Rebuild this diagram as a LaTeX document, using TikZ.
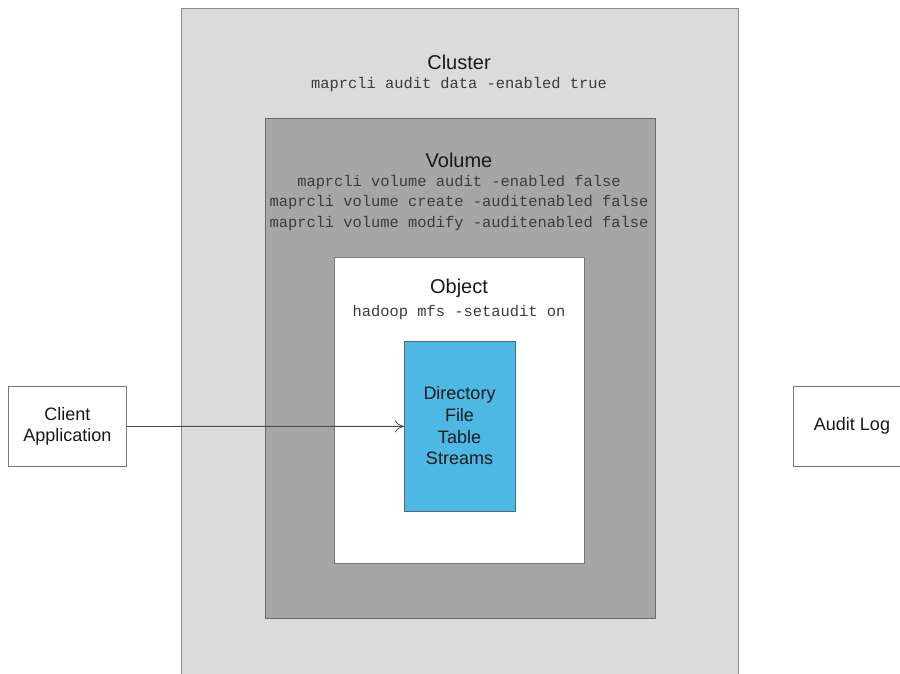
\documentclass[tikz,border=0pt]{standalone}
\usepackage{fontspec}
\setmainfont{Liberation Sans}
\newfontfamily\monofont{Liberation Mono}
\usetikzlibrary{arrows.meta}
\definecolor{clusterfill}{RGB}{219,219,219}
\definecolor{clusterline}{RGB}{140,140,140}
\definecolor{volfill}{RGB}{166,166,166}
\definecolor{volline}{RGB}{105,105,105}
\definecolor{objline}{RGB}{120,120,120}
\definecolor{bluefill}{RGB}{77,184,228}
\definecolor{blueline}{RGB}{70,110,140}
\definecolor{monotext}{RGB}{60,60,60}
\definecolor{txt}{RGB}{25,25,25}
\tikzset{
  area/.style={draw, line width=0.9pt, anchor=north west, inner sep=0pt, rectangle},
  title/.style={font=\fontsize{20}{24}\selectfont, text=txt, inner sep=0pt},
  cmd/.style={font=\monofont\fontsize{15.4}{20}\selectfont, text=monotext, inner sep=0pt, align=center},
  label/.style={font=\fontsize{18}{21.7}\selectfont, text=txt, align=center, inner sep=0pt},
  sidebox/.style={draw=objline, line width=0.8pt, fill=white, anchor=north west, inner sep=0pt, rectangle},
  conn/.style={draw=black!70, line width=0.8pt, -{To[length=9pt,width=12pt]}}
}
\begin{document}
\begin{tikzpicture}[x=1pt,y=-1pt]
\fill[white] (0,0) rectangle (900,673);
\clip (0,0) rectangle (900,673);
% cluster
\node[area, draw=clusterline, fill=clusterfill, minimum width=557pt, minimum height=680pt] (cluster) at (181,8) {};
\node[title] (ctitle) at (459,62) {Cluster};
\node[cmd] (ccmd) at (459,85) {maprcli audit data -enabled true};
% volume
\node[area, draw=volline, fill=volfill, minimum width=390pt, minimum height=500pt] (volume) at (265,118) {};
\node[title] (vtitle) at (459,160) {Volume};
\node[cmd] (vcmd1) at (459,183) {maprcli volume audit -enabled false};
\node[cmd] (vcmd2) at (459,203) {maprcli volume create -auditenabled false};
\node[cmd] (vcmd3) at (459,224) {maprcli volume modify -auditenabled false};
% object
\node[area, draw=objline, fill=white, minimum width=250pt, minimum height=306pt] (object) at (334,257) {};
\node[title] (otitle) at (459,288) {Object};
\node[cmd] (ocmd) at (459,313) {hadoop mfs -setaudit on};
% data
\node[area, draw=blueline, fill=bluefill, line width=0.7pt, minimum width=111pt, minimum height=170pt] (data) at (404,341) {};
\node[label] (dtext) at (459.5,426) {Directory\\File\\Table\\Streams};
% side boxes
\node[sidebox, minimum width=118pt, minimum height=80pt] (client) at (8,386) {};
\node[label] at (client.center) {Client\\Application};
\node[sidebox, minimum width=120pt, minimum height=80pt] (audit) at (793,386) {};
\node[label] at (852,426) {Audit Log};
% connector
\draw[conn] (client.east) -- (data.west);
\end{tikzpicture}
\end{document}
